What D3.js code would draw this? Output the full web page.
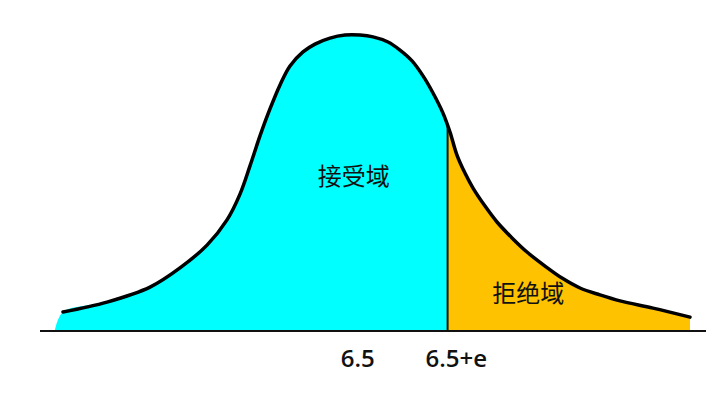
<!DOCTYPE html>
<html><head><meta charset="utf-8">
<script src="https://cdn.jsdelivr.net/npm/d3@7"></script>
<style>html,body{margin:0;padding:0;background:#fff;}svg{display:block;}</style>
</head><body>
<script>
// Curve sample points (x in abstract units 0..10, density 0..1)
const curveX = [0.345,1.006,1.652,2.102,2.508,2.808,3.003,3.153,3.303,3.453,3.604,3.754,3.949,4.129,4.354,4.580,4.805,5.000,5.225,5.405,5.586,5.751,5.901,6.051,6.156,6.261,6.381,6.502,6.682,6.862,7.087,7.312,7.583,7.838,8.108,8.408,8.709,9.204,9.760];
const curveY = [0.060,0.093,0.143,0.207,0.283,0.367,0.453,0.547,0.647,0.737,0.817,0.880,0.927,0.953,0.973,0.983,0.983,0.977,0.960,0.933,0.897,0.847,0.790,0.723,0.660,0.583,0.523,0.473,0.413,0.360,0.307,0.260,0.213,0.173,0.140,0.117,0.097,0.073,0.043];
const splitX = 6.12;        // 6.5+e boundary
const areaStartX = 0.225;   // where the fill meets the baseline on the left
const tickValues = [4.77, 6.25];
const tickLabels = ["6.5", "6.5+e"];
const regionLabels = ["接受域", "拒绝域"];
const regionLabelPos = [[4.71, 0.52], [7.33, 0.127]];
const axisRange = [0, 10];

const W = 720, H = 412;
const x = d3.scaleLinear().domain([0, 10]).range([40, 706]);
const y = d3.scaleLinear().domain([0, 1]).range([330, 30]);

const svg = d3.select("body").append("svg").attr("width", W).attr("height", H);

const pts = curveX.map((v, i) => ({x: v, y: curveY[i]}));
const areaPts = [{x: areaStartX, y: 0}].concat(pts);

const curve = d3.curveCatmullRom.alpha(0.5);
const area = d3.area().x(d => x(d.x)).y0(y(0)).y1(d => y(d.y)).curve(curve);
const line = d3.line().x(d => x(d.x)).y(d => y(d.y)).curve(curve);

const defs = svg.append("defs");
defs.append("clipPath").attr("id", "clipL").append("rect")
  .attr("x", 0).attr("y", 0).attr("width", x(splitX)).attr("height", H);
defs.append("clipPath").attr("id", "clipR").append("rect")
  .attr("x", x(splitX)).attr("y", 0).attr("width", W - x(splitX)).attr("height", H);
defs.append("clipPath").attr("id", "clipA").append("path").datum(areaPts).attr("d", area);

svg.append("path").datum(areaPts).attr("d", area).attr("fill", "#00FFFF").attr("clip-path", "url(#clipL)");
svg.append("path").datum(areaPts).attr("d", area).attr("fill", "#FFC200").attr("clip-path", "url(#clipR)");

// baseline
svg.append("line").attr("x1", x(axisRange[0])).attr("x2", x(axisRange[1]))
  .attr("y1", y(0) + 1).attr("y2", y(0) + 1).attr("stroke", "#111").attr("stroke-width", 2);

// split line: from curve down to baseline (clipped by area)
svg.append("line").attr("x1", x(splitX)).attr("x2", x(splitX))
  .attr("y1", y(1.05)).attr("y2", y(0)).attr("stroke", "#111").attr("stroke-width", 2)
  .attr("clip-path", "url(#clipA)");

// curve outline
svg.append("path").datum(pts).attr("d", line).attr("fill", "none")
  .attr("stroke", "#000").attr("stroke-width", 3.5).attr("stroke-linecap", "round");

// tick labels
svg.selectAll("text.tick").data(tickValues).join("text").attr("class", "tick")
  .attr("x", d => x(d)).attr("y", 367).attr("text-anchor", "middle")
  .attr("font-family", "'Open Sans', 'Noto Sans', sans-serif").attr("font-size", 24).attr("font-weight", 600)
  .attr("fill", "#111").text((d, i) => tickLabels[i]);

// region labels
svg.selectAll("text.region").data(regionLabels).join("text").attr("class", "region")
  .attr("x", (d, i) => x(regionLabelPos[i][0])).attr("y", (d, i) => y(regionLabelPos[i][1]))
  .attr("text-anchor", "middle").attr("dominant-baseline", "central")
  .attr("font-family", "'Noto Sans CJK SC', sans-serif").attr("font-size", 24).attr("font-weight", 400)
  .attr("fill", "#111").text(d => d);
</script>
</body></html>
